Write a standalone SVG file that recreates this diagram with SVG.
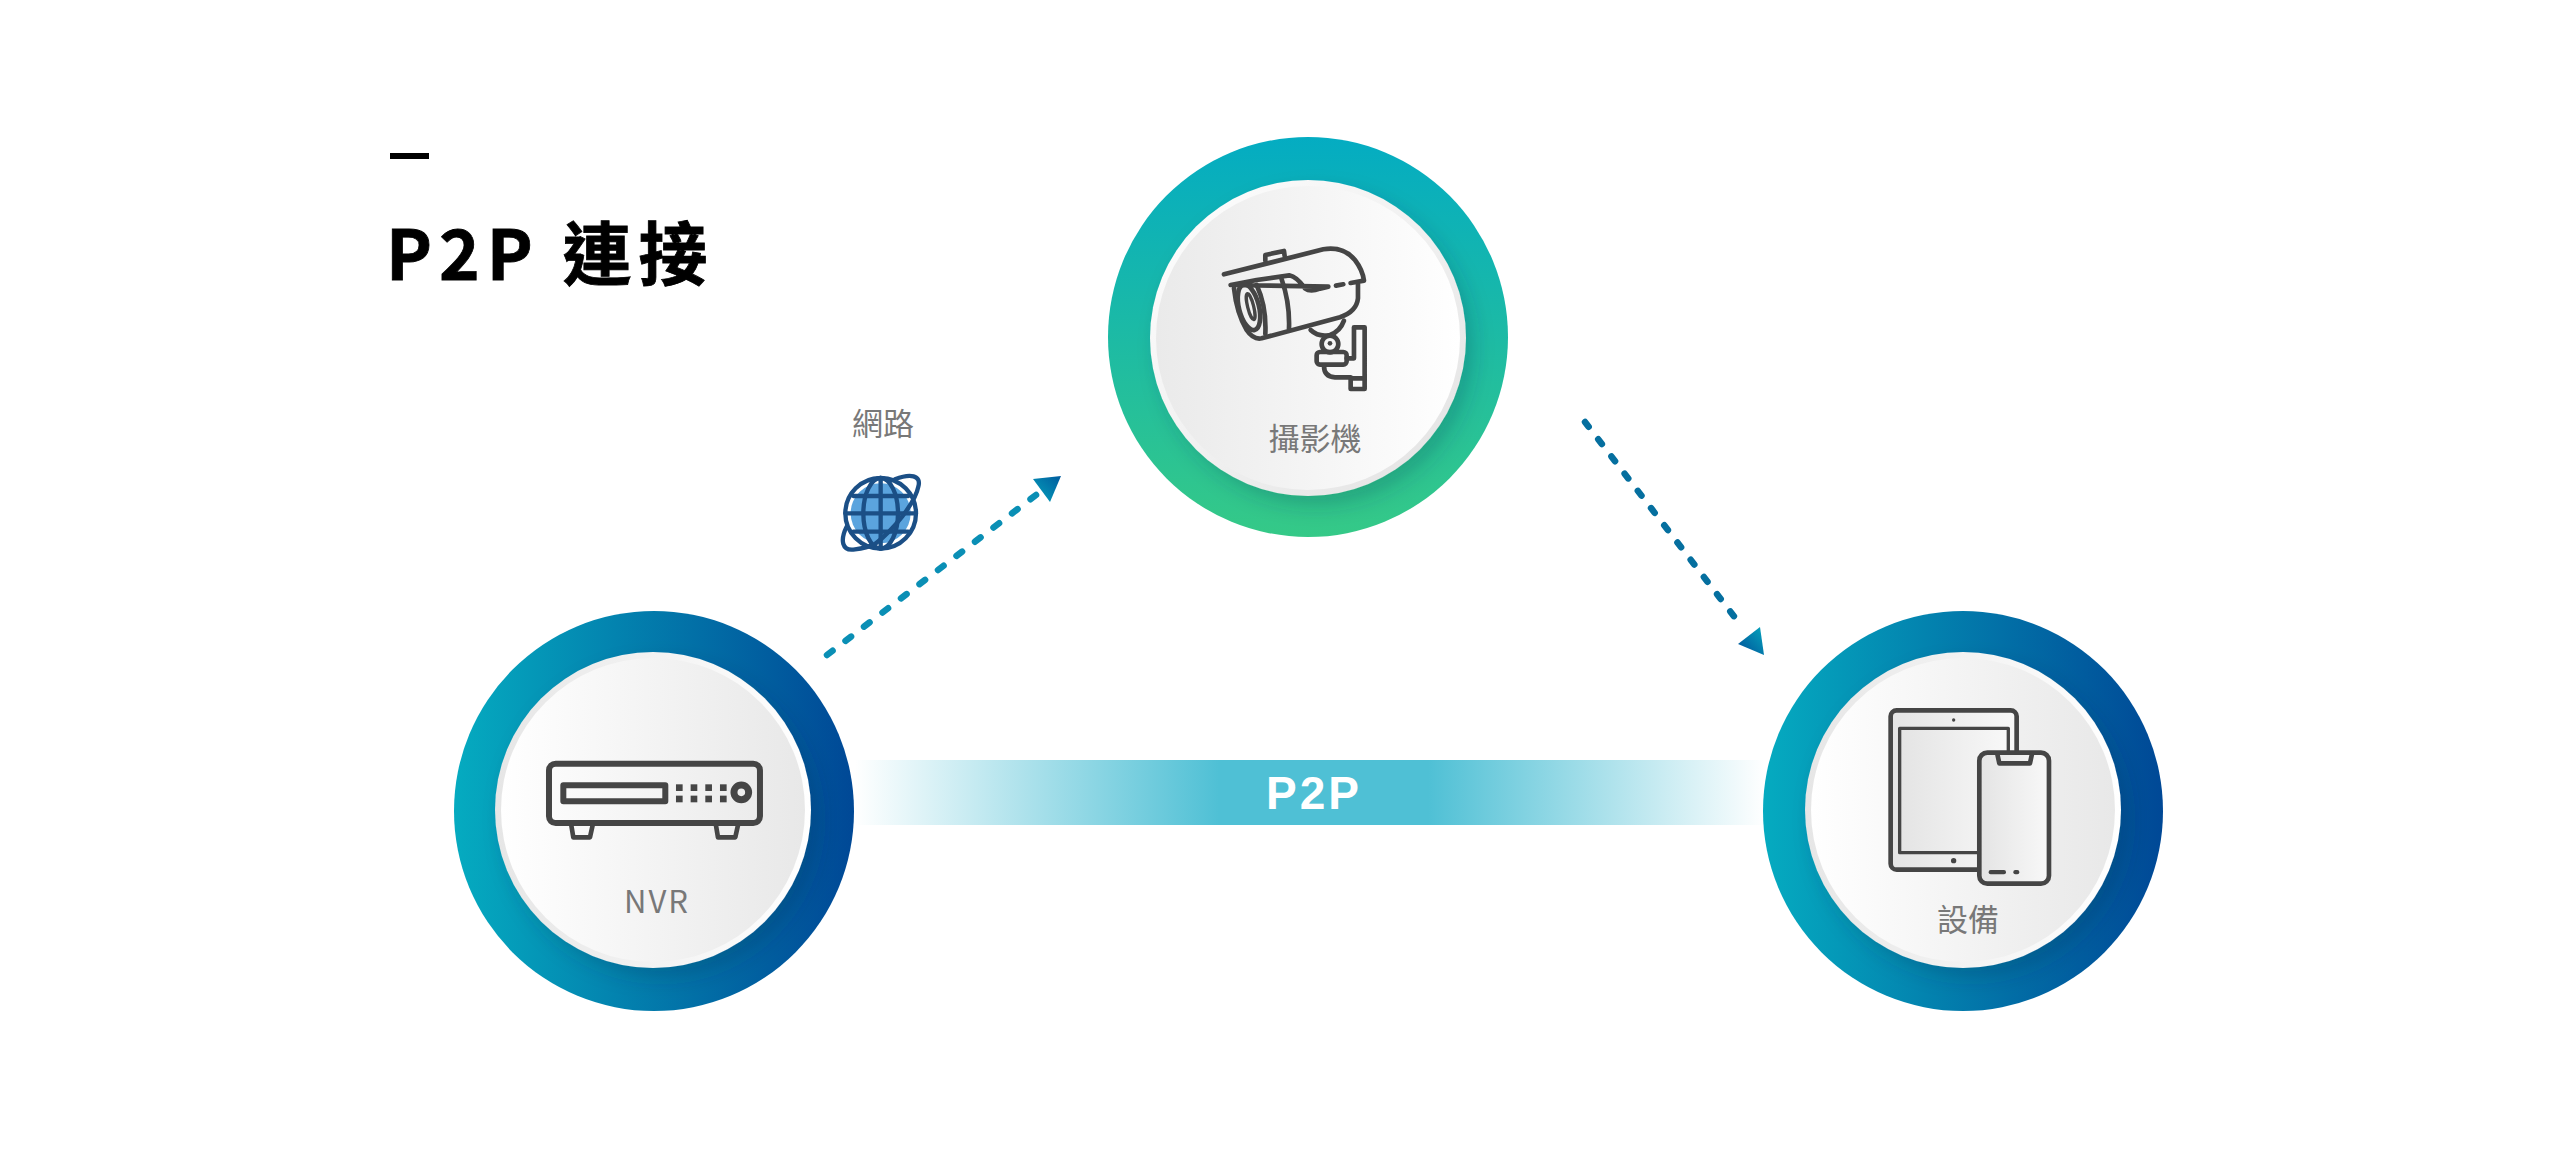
<svg xmlns="http://www.w3.org/2000/svg" width="2560" height="1152" viewBox="0 0 2560 1152">
  <style>
    .label { font-family: "Noto Sans CJK TC", "Noto Sans", sans-serif; font-size: 31px; fill: #787878; text-anchor: middle; font-weight: 400; }
    .ink { fill: none; stroke: #454545; stroke-width: 14; stroke-linejoin: round; stroke-linecap: round; }
    .heavy { stroke-width: 18; }
    .fine { stroke-width: 10; }
    .solid { fill: #454545; }
    .paper { fill: url(#screen); }
    .globe { fill: none; stroke: #1b4f86; stroke-width: 13; stroke-linecap: round; }
    .dash { fill: none; stroke-width: 6.5; stroke-linecap: round; }
  </style>
  <defs>
    <linearGradient id="ringGreen" x1="0" y1="0" x2="0" y2="1">
      <stop offset="0" stop-color="#04acc2"/><stop offset="1" stop-color="#35c987"/>
    </linearGradient>
    <linearGradient id="ringBlue" x1="0" y1="0" x2="1" y2="0">
      <stop offset="0" stop-color="#05abc0"/><stop offset="1" stop-color="#004896"/>
    </linearGradient>
    <linearGradient id="faceLight" x1="0" y1="0" x2="1" y2="0">
      <stop offset="0" stop-color="#ffffff"/><stop offset="1" stop-color="#e8e8e8"/>
    </linearGradient>
    <linearGradient id="faceCam" x1="0" y1="0" x2="1" y2="0">
      <stop offset="0" stop-color="#eaeaea"/><stop offset="1" stop-color="#ffffff"/>
    </linearGradient>
    <linearGradient id="rimLight" x1="0" y1="0" x2="1" y2="0">
      <stop offset="0" stop-color="#e6e6e6"/><stop offset="1" stop-color="#ffffff"/>
    </linearGradient>
    <linearGradient id="rimCam" x1="0" y1="0" x2="1" y2="1">
      <stop offset="0" stop-color="#ffffff"/><stop offset="1" stop-color="#e2e2e2"/>
    </linearGradient>
    <linearGradient id="screen" x1="0" y1="0" x2="1" y2="0">
      <stop offset="0" stop-color="#e4e4e4"/><stop offset="1" stop-color="#f8f8f8"/>
    </linearGradient>
    <linearGradient id="band" x1="0" y1="0" x2="1" y2="0">
      <stop offset="0" stop-color="#4fc0d5" stop-opacity="0"/>
      <stop offset="0.4" stop-color="#4fc0d5"/>
      <stop offset="0.63" stop-color="#4fc0d5"/>
      <stop offset="1" stop-color="#4fc0d5" stop-opacity="0"/>
    </linearGradient>
    <linearGradient id="headUp" x1="0" y1="1" x2="1" y2="0">
      <stop offset="0" stop-color="#05a5bd"/><stop offset="1" stop-color="#005b9e"/>
    </linearGradient>
    <linearGradient id="headDown" x1="1" y1="0" x2="0" y2="1">
      <stop offset="0" stop-color="#05a5bd"/><stop offset="1" stop-color="#004f98"/>
    </linearGradient>
    <filter id="lift" x="-20%" y="-20%" width="140%" height="140%">
      <feDropShadow dx="8" dy="10" stdDeviation="10" flood-color="#003a50" flood-opacity="0.22"/>
    </filter>
  </defs>

  <rect width="2560" height="1152" fill="#ffffff"/>

  <g id="title">
    <rect x="390" y="153" width="39" height="6" fill="#000"/>
    <text x="386" y="280" font-family="'Noto Sans CJK TC', 'Noto Sans', sans-serif" font-size="69" font-weight="700" letter-spacing="7" fill="#000" stroke="#000" stroke-width="0.8">P2P 連接</text>
  </g>

  <g id="connectors">
    <rect x="855" y="760" width="910" height="65" fill="url(#band)"/>
    <text x="1314" y="809" font-family="'Liberation Sans', Arial, sans-serif" font-size="46" font-weight="700" letter-spacing="3" fill="#fff" text-anchor="middle">P2P</text>
    <path class="dash" stroke="#0a8fb5" stroke-dasharray="7 16.3" d="M827 655 L1036 495"/>
    <polygon points="1033,479 1061,476 1050,502" fill="url(#headUp)"/>
    <path class="dash" stroke="#056f9f" stroke-dasharray="6 15.7" d="M1585 422 L1743 628"/>
    <polygon points="1760,627 1738,644 1764,655" fill="url(#headDown)"/>
  </g>

  <g id="camera">
    <circle cx="1308" cy="337" r="200" fill="url(#ringGreen)"/>
    <circle cx="1308" cy="338" r="158" fill="url(#rimCam)" filter="url(#lift)"/>
    <circle cx="1308" cy="338" r="152" fill="url(#faceCam)"/>
    <g transform="translate(1090 120) scale(0.3333)">
      <path class="ink" d="M402 463 L700 388 Q760 378 795 420 Q818 450 822 482 L782 489 M760 493 L738 497 M715 500 L690 506 Q660 517 645 505 Q620 470 598 466 L500 480 L422 495 Z"/>
      <path class="ink" d="M804 492 L804 535 Q800 575 750 592 L515 655 Q490 660 470 630 Q440 580 432 505"/>
      <ellipse class="ink" cx="477" cy="562" rx="30" ry="70" transform="rotate(-14 477 562)"/>
      <ellipse class="ink fine" cx="482" cy="560" rx="9" ry="40" transform="rotate(-14 482 560)"/>
      <path class="ink" d="M500 495 Q530 560 526 642 M575 478 Q600 550 597 626"/>
      <path class="ink" d="M526 422 L526 405 L582 393 L584 408"/>
      <path class="ink" d="M662 630 Q685 652 720 645 Q750 635 762 602"/>
      <circle class="ink" cx="720" cy="672" r="25"/>
      <circle class="solid" cx="720" cy="670" r="7"/>
      <rect class="ink" x="680" y="696" width="90" height="38" rx="10"/>
      <path class="ink" d="M770 715 L792 715 L792 622 L824 622 L824 807 L782 807 L782 772 L735 772 Q702 770 702 737 M782 775 L824 775"/>
    </g>
    <text class="label" x="1315" y="450">攝影機</text>
  </g>

  <g id="nvr">
    <circle cx="654" cy="811" r="200" fill="url(#ringBlue)"/>
    <circle cx="653" cy="810" r="158" fill="url(#rimLight)" filter="url(#lift)"/>
    <circle cx="653" cy="810" r="152" fill="url(#faceLight)"/>
    <g transform="translate(440 600) scale(0.3333)">
      <rect class="ink heavy" x="327" y="491" width="633" height="178" rx="20"/>
      <rect class="ink heavy" x="370" y="556" width="306" height="48"/>
      <g class="solid">
        <rect x="708" y="553" width="20" height="20"/><rect x="752" y="553" width="20" height="20"/>
        <rect x="796" y="553" width="20" height="20"/><rect x="840" y="553" width="20" height="20"/>
        <rect x="708" y="587" width="20" height="20"/><rect x="752" y="587" width="20" height="20"/>
        <rect x="796" y="587" width="20" height="20"/><rect x="840" y="587" width="20" height="20"/>
      </g>
      <circle class="ink" cx="904" cy="577" r="22" style="stroke-width:21"/>
      <path class="ink" d="M394 676 L400 712 L450 712 L458 676 M828 676 L834 712 L886 712 L894 676"/>
    </g>
    <text class="label" x="657" y="913" letter-spacing="2">NVR</text>
  </g>

  <g id="device">
    <circle cx="1963" cy="811" r="200" fill="url(#ringBlue)"/>
    <circle cx="1963" cy="810" r="158" fill="url(#rimLight)" filter="url(#lift)"/>
    <circle cx="1963" cy="810" r="152" fill="url(#faceLight)"/>
    <g transform="translate(1750 600) scale(0.3333)">
      <rect class="ink paper" x="422" y="331" width="378" height="478" rx="18"/>
      <rect class="ink paper fine" x="449" y="385" width="326" height="373"/>
      <circle class="solid" cx="611" cy="360" r="5"/>
      <circle class="solid" cx="611" cy="782" r="8"/>
      <rect class="ink paper" x="688" y="458" width="209" height="393" rx="24"/>
      <path class="ink" d="M742 462 L748 490 L840 490 L846 462"/>
      <rect class="solid" x="716" y="810" width="52" height="13" rx="6"/>
      <rect class="solid" x="790" y="810" width="18" height="13" rx="6"/>
    </g>
    <text class="label" x="1968" y="931">設備</text>
  </g>

  <g id="network">
    <g transform="translate(800 390) scale(0.3333)">
      <circle cx="242" cy="370" r="90" fill="#5ba4de"/>
      <circle class="globe" cx="242" cy="370" r="106"/>
      <ellipse class="globe" cx="242" cy="370" rx="52" ry="106"/>
      <path class="globe" d="M242 264 L242 476 M136 370 L348 370 M160 318 L325 318 M160 425 L325 425"/>
      <path class="globe" d="M285 268 C330 250 365 255 355 290 C345 340 280 420 225 462 C205 472 185 476 165 478 C125 485 120 450 140 410"/>
    </g>
    <text class="label" x="883" y="435">網路</text>
  </g>
</svg>
